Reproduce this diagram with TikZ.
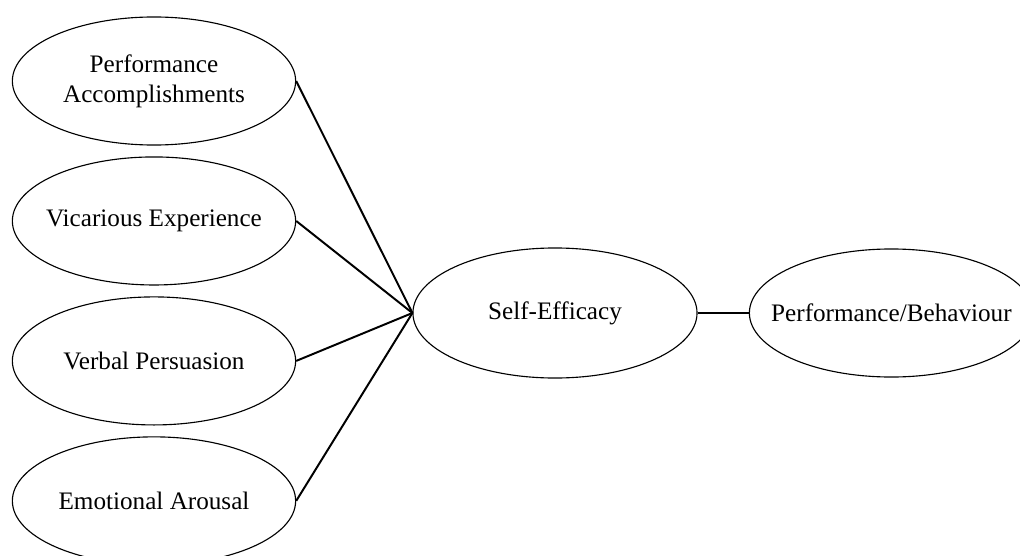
\documentclass[tikz,border=0pt]{standalone}
\usepackage{fontspec}
\setmainfont{Liberation Serif}
\usetikzlibrary{positioning, shapes}
\newcommand{\lbl}[1]{\makebox[0pt]{#1}}
\tikzset{factor/.style={ellipse, draw, line width=0.8pt, inner sep=0pt,
    minimum width=7.08cm, minimum height=3.2cm, align=center,
    font=\fontsize{17.9}{21.3}\selectfont}}
\tikzset{link/.style={line width=1.4pt}}

\begin{document}
\begin{tikzpicture}[x=0.025cm, y=0.025cm, node distance=0.27cm]
      \useasboundingbox (0,0) rectangle (1020,555);
      \node[factor] (pa) at (154,474) {\lbl{Performance}\\\lbl{Accomplishments}};
      \node[factor] (ve) [below=of pa] {\lbl{Vicarious Experience}};
      \node[factor] (vp) [below=of ve] {\lbl{Verbal Persuasion}};
      \node[factor] (ea) [below=of vp] {\lbl{Emotional Arousal}};

      \node[factor, minimum width=7.1cm, minimum height=3.25cm] (se) at (555,242) {\lbl{Self-Efficacy}};
      \node[factor, minimum width=7.1cm, minimum height=3.2cm] (pb) [right=1.28cm of se] {\lbl{Performance/Behaviour}};

      \draw[link] (pa.east) -- (se.west);
      \draw[link] (ve.east) -- (se.west);
      \draw[link] (vp.east) -- (se.west);
      \draw[link] (ea.east) -- (se.west);
      \draw[link] (se) -- (pb);
    \end{tikzpicture}
\end{document}
